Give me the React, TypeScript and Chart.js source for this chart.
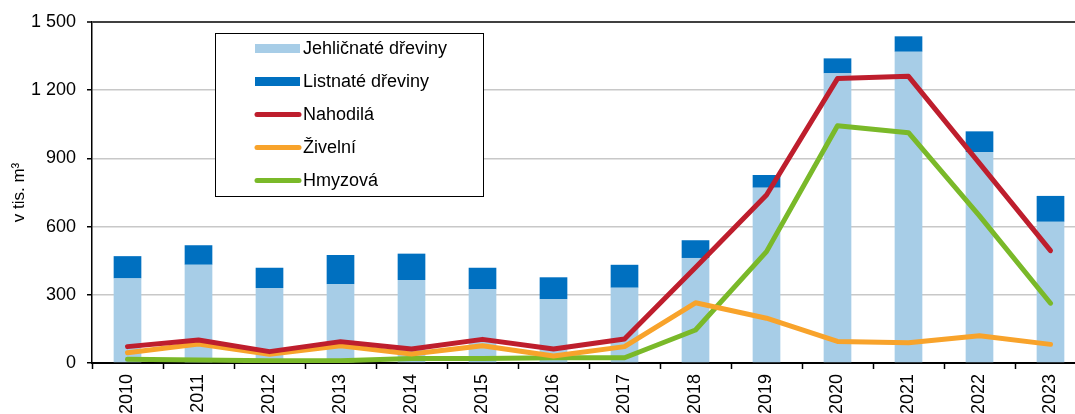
import React, { useEffect, useRef } from "react";
import { Chart, registerables } from "chart.js";

Chart.register(...registerables);

const years = ["2010", "2011", "2012", "2013", "2014", "2015", "2016", "2017", "2018", "2019", "2020", "2021", "2022", "2023"];
const jehlicnate = [372, 432, 330, 347, 365, 324, 281, 331, 462, 771, 1274, 1369, 928, 621];
const listnate = [98, 86, 89, 128, 116, 95, 96, 101, 78, 56, 66, 68, 91, 114];
const nahodila = [72, 101, 50, 94, 62, 104, 62, 106, 420, 739, 1251, 1261, 878, 494];
const zivelni = [45, 84, 38, 76, 40, 76, 31, 72, 265, 197, 95, 89, 120, 82];
const hmyzova = [16, 13, 10, 10, 20, 20, 23, 23, 145, 490, 1044, 1013, 647, 263];
const yTicks = [0, 300, 600, 900, 1200, 1500];

const FONT = "'Liberation Sans', Arial, sans-serif";

const legendBox = {
  id: "legendBox",
  afterDraw(chart: any) {
    const ctx = chart.ctx;
    const x = 215, y = 33, w = 268, h = 163;
    ctx.save();
    ctx.fillStyle = "#ffffff";
    ctx.fillRect(x, y, w, h);
    ctx.strokeStyle = "#000000";
    ctx.lineWidth = 1;
    ctx.strokeRect(x + 0.5, y + 0.5, w, h);
    const rowY = [48.5, 81.5, 114.5, 147.5, 180.5];
    chart.data.datasets.forEach((ds: any, i: number) => {
      const cy = rowY[i];
      if (ds.type === "line") {
        ctx.strokeStyle = ds.borderColor;
        ctx.lineWidth = 5;
        ctx.lineCap = "round";
        ctx.beginPath();
        ctx.moveTo(257, cy);
        ctx.lineTo(299, cy);
        ctx.stroke();
      } else {
        ctx.fillStyle = ds.backgroundColor;
        ctx.fillRect(255, cy - 4.5, 45, 9);
      }
      ctx.fillStyle = "#000000";
      ctx.font = `18px ${FONT}`;
      ctx.textBaseline = "middle";
      ctx.textAlign = "left";
      ctx.fillText(ds.label, 303, cy + 0.5);
    });
    ctx.restore();
  },
};

export default function App() {
  const ref = useRef<HTMLCanvasElement | null>(null);

  useEffect(() => {
    if (!ref.current) return;
    const lineCommon = {
      type: "line" as const,
      borderWidth: 5,
      pointRadius: 0,
      pointHoverRadius: 0,
      tension: 0,
      fill: false,
      borderCapStyle: "round" as const,
      borderJoinStyle: "round" as const,
      order: 1,
    };
    const chart = new Chart(ref.current, {
      data: {
        labels: years,
        datasets: [
          {
            type: "bar",
            label: "Jehličnaté dřeviny",
            data: jehlicnate,
            backgroundColor: "#A7CDE7",
            stack: "s",
            barPercentage: 0.39,
            categoryPercentage: 1,
            order: 2,
          },
          {
            type: "bar",
            label: "Listnaté dřeviny",
            data: listnate,
            backgroundColor: "#0070C0",
            stack: "s",
            barPercentage: 0.39,
            categoryPercentage: 1,
            order: 2,
          },
          { ...lineCommon, label: "Nahodilá", data: nahodila, stack: "n", borderColor: "#BE1E2D", backgroundColor: "#BE1E2D" },
          { ...lineCommon, label: "Živelní", data: zivelni, stack: "z", borderColor: "#F8A32B", backgroundColor: "#F8A32B" },
          { ...lineCommon, label: "Hmyzová", data: hmyzova, stack: "h", borderColor: "#7AB929", backgroundColor: "#7AB929" },
        ] as any,
      },
      options: {
        animation: false,
        responsive: true,
        maintainAspectRatio: false,
        layout: { padding: { top: 22, left: 0, right: 0, bottom: 0 } },
        plugins: { legend: { display: false }, tooltip: { enabled: false } },
        scales: {
          x: {
            stacked: true,
            offset: true,
            grid: {
              offset: true,
              drawOnChartArea: false,
              drawTicks: true,
              tickLength: 6,
              tickColor: "#000000",
              tickWidth: 1.5,
            },
            border: { color: "#000000", width: 2 },
            ticks: {
              minRotation: 90,
              maxRotation: 90,
              autoSkip: false,
              padding: 5,
              color: "#000000",
              font: { family: FONT, size: 18 },
            },
            afterFit: (scale: any) => {
              scale.height = 51;
            },
          },
          y: {
            stacked: true,
            min: 0,
            max: 1500,
            afterBuildTicks: (scale: any) => {
              scale.ticks = yTicks.map((v) => ({ value: v }));
            },
            grid: {
              color: (c: any) => (c.tick && c.tick.value === 1500 ? "#404040" : "#C8C8C8"),
              lineWidth: (c: any) => (c.tick && c.tick.value === 1500 ? 2 : 1.5),
              tickColor: "#000000",
              tickLength: 5,
              tickWidth: 1.5,
            },
            border: { color: "#000000", width: 1.5 },
            ticks: {
              padding: 11,
              color: "#000000",
              font: { family: FONT, size: 18 },
              callback: (v: any) => String(v).replace(/\B(?=(\d{3})+(?!\d))/g, " "),
            },
            title: {
              display: true,
              text: "v tis. m³",
              color: "#000000",
              font: { family: FONT, size: 17 },
              padding: { top: 9, bottom: 0 },
            },
            afterFit: (scale: any) => {
              scale.width = 92;
            },
          },
        },
      },
      plugins: [legendBox],
    });
    return () => chart.destroy();
  }, []);

  return (
    <div style={{ position: "fixed", left: 0, top: 0, width: 1075, height: 414, overflow: "hidden", background: "#fff" }}>
      <div style={{ position: "relative", width: 1086, height: 414 }}>
        <canvas ref={ref} />
      </div>
    </div>
  );
}
